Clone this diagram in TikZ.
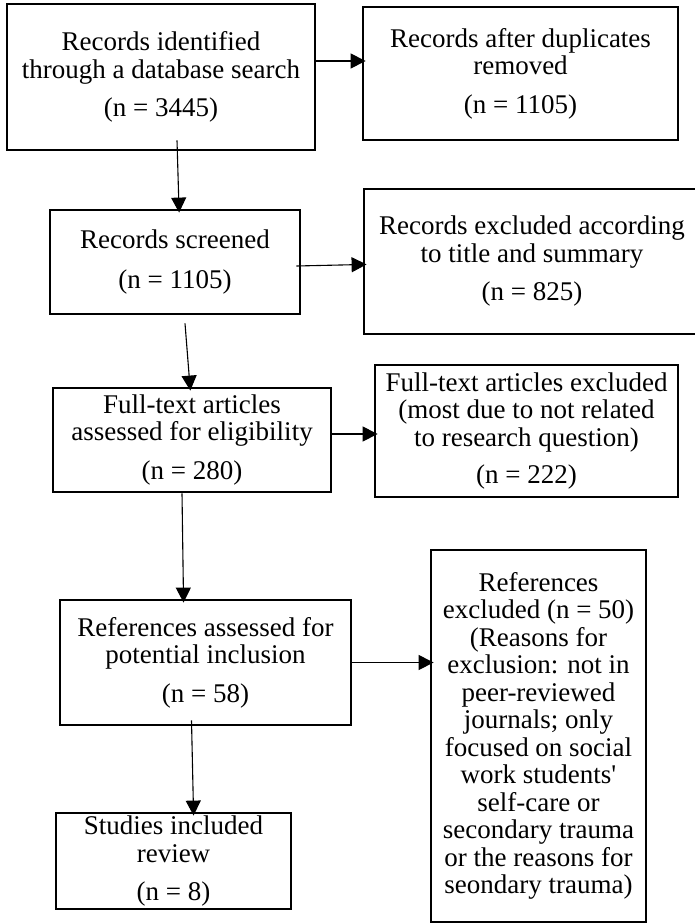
\documentclass[tikz,border=0pt]{standalone}
\usepackage{fontspec}
\setmainfont{Liberation Serif}
\usetikzlibrary{arrows.meta}

\begin{document}
\begin{tikzpicture}[%
    x=1pt, y=-1pt,
    every node/.style={
        font=\fontsize{27}{27.5}\selectfont,
        align=center,
        inner sep=0pt,
    },
    flowbox/.style={draw, line width=2.8pt},
    arr/.style={-{Triangle[length=15pt,width=15pt]}, line width=1.1pt, shorten >=-4pt},
]

\useasboundingbox (0,0) rectangle (695,923);

% left column
\node[flowbox, minimum width=308pt, minimum height=146pt] (ident) at (161,77)
    {Records identified\\ through a database search\\[11pt] (n = 3445)};
\node[flowbox, minimum width=250pt, minimum height=104pt] (screen) at (175,262)
    {Records screened\\[12pt] (n = 1105)};
\node[flowbox, minimum width=278pt, minimum height=104pt] (full) at (192,440)
    {Full-text articles\\ assessed for eligibility\\[11pt] (n = 280)};
\node[flowbox, minimum width=291pt, minimum height=125pt] (refs) at (205.5,662.5)
    {References assessed for\\ potential inclusion\\[11pt] (n = 58)};
\node[flowbox, minimum width=235pt, minimum height=96pt] (incl) at (173.5,861)
    {Studies included\\ review\\[11pt] (n = 8)};

% right column
\node[flowbox, minimum width=315pt, minimum height=133pt] (dupl) at (520.5,73.5)
    {Records after duplicates\\ removed\\[11pt] (n = 1105)};
\node[flowbox, minimum width=336pt, minimum height=145pt] (excl) at (532,261.5)
    {Records excluded according\\ to title and summary\\[11pt] (n = 825)};
\node[flowbox, minimum width=303pt, minimum height=132pt] (fullexcl) at (526.5,431)
    {Full-text articles excluded\\ (most due to not related\\ to research question)\\[10pt] (n = 222)};
\node[flowbox, minimum width=215pt, minimum height=372pt] (refexcl) at (538.5,736)
    {References\\ excluded (n = 50)\\ (Reasons for\\ exclusion: not in\\ peer-reviewed\\ journals; only\\
     focused on social\\ work students\textquotesingle\\ self-care or\\ secondary trauma\\ or the reasons for\\ seondary trauma)};

% draw arrows
\draw[arr] ([yshift=16pt]ident.east) -- ([yshift=16pt]ident.east -| dupl.west);
\draw[arr] ([xshift=16pt,yshift=11pt]ident.south) -- ([xshift=4pt]screen.north);
\draw[arr] ([xshift=-5pt,yshift=-4pt]screen.east) -- ([yshift=-3pt]excl.west);
\draw[arr] ([xshift=10pt,yshift=-8pt]screen.south) -- ([xshift=-2pt]full.north);
\draw[arr] ([yshift=6pt]full.east) -- ([yshift=6pt]full.east -| fullexcl.west);
\draw[arr] ([xshift=-10pt]full.south) -- ([xshift=-22pt]refs.north);
\draw[arr] (refs.east) -- (refs.east -| refexcl.west);
\draw[arr] ([xshift=-14pt,yshift=6pt]refs.south) -- ([xshift=20pt]incl.north);

\end{tikzpicture}
\end{document}
